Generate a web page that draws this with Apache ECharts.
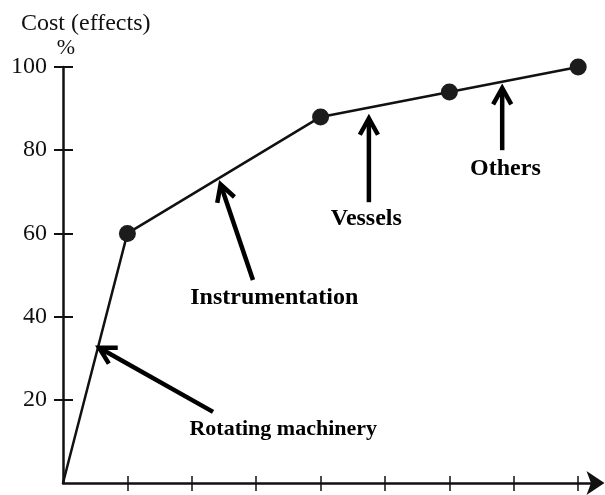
<!DOCTYPE html>
<html>
<head>
<meta charset="utf-8">
<script src="https://cdn.jsdelivr.net/npm/echarts@6/dist/echarts.min.js"></script>
<style>
  html, body { margin: 0; padding: 0; background: #fff; }
  #chart { width: 605px; height: 495px; }
</style>
</head>
<body>
<div id="chart"></div>
<script>
// Cumulative cost curve
const itemCount = [0, 1, 4, 6, 8];
const cumulativeCost = [0, 60, 88, 94, 100];
const yTicks = [20, 40, 60, 80, 100];
const xTicks = [1, 2, 3, 4, 5, 6, 7, 8];

// Callouts: label text, where the label sits, and arrow from/to (in axis units)
const calloutText = ['Rotating machinery', 'Instrumentation', 'Vessels', 'Others'];
const calloutAt = [[3.42, 13.0], [3.28, 44.5], [4.71, 63.5], [6.87, 75.5]];
const arrowFrom = [[2.33, 17.1], [2.95, 48.8], [4.75, 67.5], [6.82, 80.0]];
const arrowTo = [[0.54, 32.7], [2.44, 72.1], [4.75, 88.0], [6.82, 95.3]];

const SERIF = '"Liberation Serif", "DejaVu Serif", serif';
const calloutFont = ['bold 22px ' + SERIF, 'bold 24px ' + SERIF, 'bold 24px ' + SERIF, 'bold 24px ' + SERIF];

const chart = echarts.init(document.getElementById('chart'), null, { renderer: 'canvas' });

function renderArrow(params, api) {
  const a = api.coord([api.value(0), api.value(1)]);
  const b = api.coord([api.value(2), api.value(3)]);
  const dx = b[0] - a[0], dy = b[1] - a[1];
  const len = Math.hypot(dx, dy);
  const ux = dx / len, uy = dy / len;
  const arm = 20, ang = 27 * Math.PI / 180;
  const rot = (x, y, t) => [x * Math.cos(t) - y * Math.sin(t), x * Math.sin(t) + y * Math.cos(t)];
  const l = rot(ux, uy, ang), r = rot(ux, uy, -ang);
  const p1 = [b[0] - arm * l[0], b[1] - arm * l[1]];
  const p2 = [b[0] - arm * r[0], b[1] - arm * r[1]];
  return {
    type: 'group',
    children: [
      { type: 'line', shape: { x1: a[0], y1: a[1], x2: b[0] - ux * 2, y2: b[1] - uy * 2 },
        style: { stroke: '#000', lineWidth: 4.5 } },
      { type: 'polyline', shape: { points: [p1, [b[0] - ux * 1.5, b[1] - uy * 1.5], p2] },
        style: { stroke: '#000', lineWidth: 4.5, fill: null, lineJoin: 'miter' } }
    ]
  };
}

function renderLabel(params, api) {
  const p = api.coord([api.value(0), api.value(1)]);
  return {
    type: 'text', x: p[0], y: p[1],
    style: { text: calloutText[params.dataIndex], font: calloutFont[params.dataIndex],
             fill: '#000', align: 'center', verticalAlign: 'middle' }
  };
}

const axisFont = { fontFamily: SERIF, fontSize: 24, color: '#111' };

chart.setOption({
  animation: false,
  backgroundColor: '#fff',
  title: {
    text: 'Cost (effects)', left: 16, top: 7,
    textStyle: { fontFamily: SERIF, fontSize: 24, fontWeight: 'normal', color: '#111' }
  },
  grid: { left: 63, top: 67, bottom: 12, right: 7.5 },
  xAxis: [
    {
      type: 'value', min: 0, max: 8.3, interval: 1,
      axisLine: { show: true, lineStyle: { color: '#111', width: 2.5 },
                  symbol: ['none', 'arrow'], symbolSize: [18, 18], symbolOffset: [0, 7] },
      axisTick: { show: true, length: 8, customValues: xTicks, lineStyle: { color: '#111', width: 1.5 } },
      axisLabel: { show: false },
      splitLine: { show: false }
    },
    {
      type: 'value', min: 0, max: 8.3, interval: 1, position: 'bottom',
      axisLine: { show: false },
      axisTick: { show: true, inside: true, length: 7, customValues: xTicks, lineStyle: { color: '#111', width: 1.5 } },
      axisLabel: { show: false },
      splitLine: { show: false }
    }
  ],
  yAxis: [
    {
      type: 'value', min: 0, max: 100, interval: 20,
      name: '%', nameLocation: 'end', nameGap: 8,
      nameTextStyle: { fontFamily: SERIF, fontSize: 22, color: '#111', align: 'center', padding: [0, 0, 0, 6] },
      axisLine: { show: true, lineStyle: { color: '#111', width: 2.5 } },
      axisTick: { show: true, length: 9, customValues: yTicks, lineStyle: { color: '#111', width: 2 } },
      axisLabel: Object.assign({ margin: 16, customValues: yTicks }, axisFont),
      splitLine: { show: false }
    },
    {
      type: 'value', min: 0, max: 100, interval: 20, position: 'left',
      axisLine: { show: false },
      axisTick: { show: true, inside: true, length: 10, customValues: yTicks, lineStyle: { color: '#111', width: 2 } },
      axisLabel: { show: false },
      splitLine: { show: false }
    }
  ],
  series: [
    {
      type: 'line',
      data: itemCount.map((x, i) => i === 0 ? { value: [x, cumulativeCost[i]], symbol: 'none' } : [x, cumulativeCost[i]]),
      symbol: 'circle', symbolSize: 17,
      lineStyle: { color: '#111', width: 2.5 },
      itemStyle: { color: '#1c1c1c' },
      z: 3
    },
    {
      type: 'custom', renderItem: renderArrow,
      data: arrowFrom.map((f, i) => [f[0], f[1], arrowTo[i][0], arrowTo[i][1]]),
      encode: { x: [0, 2], y: [1, 3] }, z: 4, silent: true
    },
    {
      type: 'custom', renderItem: renderLabel,
      data: calloutAt.map(p => [p[0], p[1]]),
      encode: { x: 0, y: 1 }, z: 4, silent: true
    }
  ]
});
</script>
</body>
</html>
